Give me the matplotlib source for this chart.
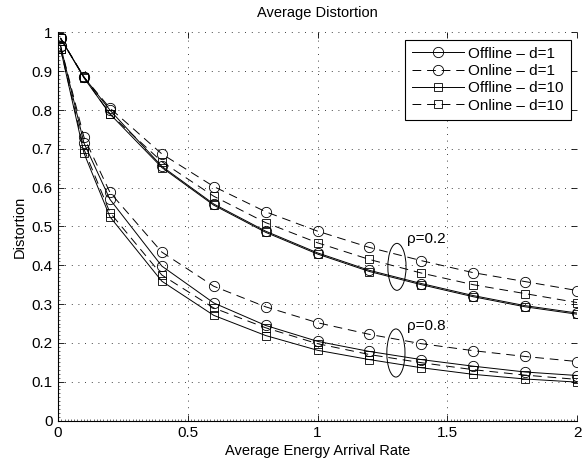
import matplotlib
matplotlib.use('Agg')
import matplotlib.pyplot as plt
from matplotlib.patches import Ellipse
from matplotlib.ticker import MultipleLocator

plt.rcParams['font.family'] = ['Liberation Sans', 'DejaVu Sans']
plt.rcParams['font.size'] = 11

rate = [0.01, 0.1, 0.2, 0.4, 0.6, 0.8, 1.0, 1.2, 1.4, 1.6, 1.8, 2.0]

# rho = 0.2
offline_d1_r02 = [0.985, 0.885, 0.800, 0.655, 0.558, 0.488, 0.432, 0.387, 0.353, 0.322, 0.296, 0.277]
online_d1_r02 = [0.985, 0.885, 0.805, 0.687, 0.603, 0.538, 0.488, 0.446, 0.412, 0.381, 0.358, 0.335]
offline_d10_r02 = [0.985, 0.883, 0.790, 0.652, 0.555, 0.485, 0.429, 0.384, 0.350, 0.319, 0.293, 0.274]
online_d10_r02 = [0.985, 0.885, 0.790, 0.667, 0.578, 0.510, 0.458, 0.415, 0.380, 0.350, 0.327, 0.304]

# rho = 0.8
offline_d1_r08 = [0.965, 0.715, 0.570, 0.398, 0.303, 0.245, 0.204, 0.178, 0.157, 0.140, 0.125, 0.116]
online_d1_r08 = [0.965, 0.730, 0.588, 0.434, 0.346, 0.293, 0.252, 0.222, 0.198, 0.180, 0.165, 0.152]
offline_d10_r08 = [0.957, 0.689, 0.525, 0.359, 0.271, 0.219, 0.181, 0.157, 0.136, 0.119, 0.107, 0.099]
online_d10_r08 = [0.957, 0.699, 0.536, 0.375, 0.290, 0.239, 0.198, 0.170, 0.149, 0.131, 0.117, 0.106]

fig = plt.figure(figsize=(5.82, 4.62), dpi=100)
ax = fig.add_axes([0.0997, 0.0898, 0.8918, 0.8399])

lw = 0.7
dash = (9, 6)
circ = dict(marker='o', markersize=7.4, markerfacecolor='none', markeredgecolor='k', markeredgewidth=0.6)
sq = dict(marker='s', markersize=6.4, markerfacecolor='none', markeredgecolor='k', markeredgewidth=0.6)

series = [
  (offline_d1_r02, offline_d1_r08, circ, False, 'Offline \u2013 d=1'),
  (online_d1_r02, online_d1_r08, circ, True, 'Online \u2013 d=1'),
  (offline_d10_r02, offline_d10_r08, sq, False, 'Offline \u2013 d=10'),
  (online_d10_r02, online_d10_r08, sq, True, 'Online \u2013 d=10'),
]

handles = []
for r02, r08, mk, dashed, label in series:
  for vals in (r02, r08):
    h, = ax.plot(rate, vals, color='k', lw=lw, label=label, **mk)
    if dashed:
      h.set_dashes(dash)
  handles.append(h)

# group markers
ax.add_patch(Ellipse((1.306, 0.396), 0.07, 0.121, fill=False, ec='k', lw=0.7))
ax.add_patch(Ellipse((1.302, 0.174), 0.07, 0.124, fill=False, ec='k', lw=0.7))
ax.text(1.345, 0.457, '\u03c1=0.2', va='baseline', ha='left')
ax.text(1.345, 0.233, '\u03c1=0.8', va='baseline', ha='left')

ax.set_xlim(0, 2)
ax.set_ylim(0, 1)
ax.set_xticks([0, 0.5, 1, 1.5, 2])
ax.set_xticklabels(['0', '0.5', '1', '1.5', '2'])
ax.set_yticks([i / 10 for i in range(11)])
ax.set_yticklabels(['0', '0.1', '0.2', '0.3', '0.4', '0.5', '0.6', '0.7', '0.8', '0.9', '1'])
ax.xaxis.set_minor_locator(MultipleLocator(0.0125))
ax.yaxis.set_minor_locator(MultipleLocator(0.01))
ax.tick_params(which='major', direction='in', length=4, width=0.6, top=True, right=True, pad=4)
ax.tick_params(which='minor', direction='in', length=1.5, width=0.4)
ax.tick_params(which='minor', top=False, right=False)

ax.grid(True, which='major', linestyle=(0, (1, 7)), color='k', lw=0.6)
ax.spines['top'].set_visible(False)
ax.spines['right'].set_visible(False)
ax.spines['left'].set_linewidth(0.8)
ax.spines['bottom'].set_linewidth(0.8)

ax.set_xlabel('Average Energy Arrival Rate', fontsize=10.5, labelpad=3)
ax.set_ylabel('Distortion', fontsize=10.5, labelpad=3)
ax.set_title('Average Distortion', fontsize=10.5, pad=11)

leg = ax.legend(handles=handles, loc='upper right', bbox_to_anchor=(0.988, 0.981),
                fancybox=False, framealpha=1, edgecolor='k', handlelength=3.4,
                borderpad=0.45, labelspacing=0.22, handletextpad=0.3, borderaxespad=0)
leg.get_frame().set_linewidth(0.8)

fig.savefig('out.png', dpi=100)
